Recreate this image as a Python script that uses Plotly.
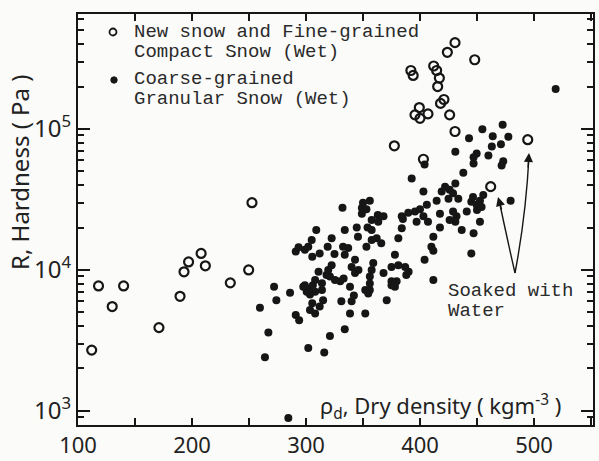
import plotly.graph_objects as go

# ---- data ----
open_x = [112, 118, 130, 140, 171, 189.5, 193, 197, 208, 211.7, 233.6, 249.7, 252.6,
          430.7, 424, 448, 392, 394, 412, 414.6, 417, 415.5, 421, 418, 399.4,
          395.6, 400, 407, 426, 430.7, 377.5, 403, 494.5, 462]
open_y = [2700, 7700, 5500, 7700, 3900, 6500, 9700, 11400, 13100, 10700, 8100, 10000, 30000,
          410000, 350000, 310000, 260000, 240000, 280000, 260000, 230000, 200000, 162000, 152000, 142000,
          126000, 119000, 128000, 126000, 96000, 76000, 61000, 84000, 39000]

filled_x = [519, 284.5, 264, 267, 259.6, 274, 272, 286, 291, 294, 291, 302, 316, 321, 334,
            338.6, 352, 331, 340, 342, 315, 305.5, 308, 312, 303.5, 303.5, 300.6, 308, 314,
            303.5, 297.6, 299, 306, 314, 308, 311, 318, 325.4, 330, 333, 321, 319.5, 322.5,
            312, 305.5, 299, 334, 325, 343, 340, 346, 343, 338.6, 352, 293.5, 302, 305, 309,
            319, 322.5, 332.5, 337, 334, 344.5, 345.6, 332, 349, 350, 356, 353, 349, 363, 368,
            357.6, 363.4, 354, 357.6, 357.6, 362, 366, 353, 359, 357.6, 356, 356, 356, 354.6,
            368, 375, 381, 387, 390, 388, 375, 379.5, 378, 375, 411.7, 370.8, 378, 381, 384,
            384, 385, 389.7, 395.6, 400, 403, 407, 397, 406, 414.6, 403, 392.7, 404, 417.5,
            411.7, 410, 411.7, 404, 417.5, 422, 419, 426, 431, 429, 433.6, 425, 429, 432, 431,
            426, 441, 450, 436.6, 445, 447, 452.6, 445, 446.5, 452.6, 455.5, 449.7, 454, 479.5,
            438, 431, 447, 447, 449.7, 460, 473, 471.6, 443, 454.7, 472.5, 463.8, 477.5, 471, 463]
filled_y = [192000, 890, 2400, 3600, 5400, 6100, 7600, 6900, 4800, 4400, 13500, 2800, 2600, 3400, 3800,
            4900, 4900, 6000, 6000, 6600, 6100, 5800, 4900, 5500, 5200, 6700, 7000, 7000, 7200,
            7400, 7600, 7800, 7800, 8050, 8500, 9700, 9200, 8500, 8300, 8700, 9000, 10000, 10800,
            13100, 12400, 13900, 12800, 13000, 11800, 10500, 10000, 9500, 7600, 7200, 14500, 14600, 16300, 19200,
            14600, 16800, 14600, 14300, 19200, 20000, 17200, 27600, 27500, 30000, 31000, 27000, 25000, 24500, 24000,
            22600, 22000, 20000, 19200, 16300, 16800, 15500, 14600, 11200, 10000, 9000, 8000, 7200, 6800,
            9500, 10500, 10800, 10500, 9700, 9200, 8300, 8300, 7600, 7800, 8500, 6100, 12800, 16800, 19800,
            24000, 23000, 25500, 26000, 27000, 24000, 22000, 22000, 29000, 31000, 36000, 44600, 56000, 20000,
            17200, 14600, 13700, 11800, 25000, 39000, 36000, 37000, 41000, 35000, 32000, 32000, 26000, 24000, 22000,
            22600, 26000, 26600, 19200, 13100, 18200, 22000, 30500, 33000, 31000, 34000, 29000, 28000, 31000,
            49000, 69000, 63000, 57000, 67000, 65000, 59000, 55000, 86000, 99500, 107000, 89000, 88000, 78000, 75000]

x_ticks = [100, 200, 300, 400, 500]
y_ticks = [1e3, 1e4, 1e5]
y_ticktext = ["10<sup>3</sup>", "10<sup>4</sup>", "10<sup>5</sup>"]
y_minor = [m * 10 ** e for e in (2, 3, 4, 5) for m in (2, 3, 4, 5, 6, 7, 8, 9)]

INK = "#161616"
BG = "#fbfbf9"
MONO = "Liberation Mono, Courier New, monospace"
SANS = "Noto Sans, DejaVu Sans, sans-serif"

fig = go.Figure()
fig.add_trace(go.Scatter(x=filled_x, y=filled_y, mode="markers",
                         marker=dict(symbol="circle", size=8, color=INK),
                         showlegend=False, hoverinfo="skip"))
fig.add_trace(go.Scatter(x=open_x, y=open_y, mode="markers",
                         marker=dict(symbol="circle-open", size=9, color=INK, line=dict(width=2.2, color=INK)),
                         showlegend=False, hoverinfo="skip"))

W, H = 599, 461
L, R, T, B = 78, 6, 14, 36
pw, ph = W - L - R, H - T - B


def px(x):
    return (x - L) / pw


def py(y):
    return (H - B - y) / ph


ann = []
# legend text
leg_lines = [("New snow and Fine-grained", 32), ("Compact Snow (Wet)", 52),
             ("Coarse-grained", 79), ("Granular Snow (Wet)", 99)]
for txt, yy in leg_lines:
    ann.append(dict(text=txt, x=px(132), y=py(yy), xref="paper", yref="paper",
                    xanchor="left", yanchor="middle", showarrow=False,
                    font=dict(family=MONO, size=19, color="#2a2a2a")))
for txt, yy in [("Soaked with", 291), ("Water", 311)]:
    ann.append(dict(text=txt, x=px(446), y=py(yy), xref="paper", yref="paper",
                    xanchor="left", yanchor="middle", showarrow=False,
                    font=dict(family=MONO, size=19, color="#2a2a2a")))
# axis titles
ann.append(dict(text="R, Hardness ( Pa )", x=px(19), y=py(172), xref="paper", yref="paper",
                textangle=-90, showarrow=False, xanchor="center", yanchor="middle",
                font=dict(family=SANS, size=24, color="#222")))
ann.append(dict(text="ρ<sub>d</sub>, Dry density ( kgm<sup>-3</sup> )", x=px(440), y=py(406),
                xref="paper", yref="paper", showarrow=False, xanchor="center", yanchor="middle",
                font=dict(family=SANS, size=22, color="#222")))
# arrowheads
ann.append(dict(x=px(498), y=py(197), xref="paper", yref="paper", ax=4, ay=14, text="",
                showarrow=True, arrowhead=2, arrowsize=1.3, arrowwidth=1.4, arrowcolor=INK))
ann.append(dict(x=px(529), y=py(153), xref="paper", yref="paper", ax=-1, ay=16, text="",
                showarrow=True, arrowhead=2, arrowsize=1.3, arrowwidth=1.4, arrowcolor=INK))

shapes = []
# legend markers
shapes.append(dict(type="circle", xref="paper", yref="paper", xsizemode="pixel", ysizemode="pixel",
                   xanchor=px(113), yanchor=py(32), x0=-3.5, x1=3.5, y0=-3.5, y1=3.5,
                   line=dict(color=INK, width=1.8)))
shapes.append(dict(type="circle", xref="paper", yref="paper", xsizemode="pixel", ysizemode="pixel",
                   xanchor=px(114), yanchor=py(80), x0=-3.2, x1=3.2, y0=-3.2, y1=3.2,
                   fillcolor=INK, line=dict(color=INK, width=1)))
# curved arrow lines
shapes.append(dict(type="path", xref="paper", yref="paper",
                   path=f"M {px(515)},{py(273)} Q {px(507)},{py(238)} {px(499)},{py(200)}",
                   line=dict(color=INK, width=1.4)))
shapes.append(dict(type="path", xref="paper", yref="paper",
                   path=f"M {px(515)},{py(273)} Q {px(526)},{py(215)} {px(529)},{py(156)}",
                   line=dict(color=INK, width=1.4)))

fig.update_layout(
    width=W, height=H, margin=dict(l=L, r=R, t=T, b=B, autoexpand=False),
    paper_bgcolor=BG, plot_bgcolor=BG,
    annotations=ann, shapes=shapes, showlegend=False,
)
fig.update_xaxes(range=[100, 100 + pw / 1.14], tickvals=x_ticks, ticks="inside", ticklen=7,
                 tickwidth=1.5, tickcolor=INK, showline=True, linecolor=INK, linewidth=2,
                 mirror="ticks", showgrid=False, zeroline=False, automargin=False,
                 ticklabelstandoff=0,
                 minor=dict(dtick=50, tick0=100, ticks="inside", ticklen=7, tickwidth=1.5, tickcolor=INK),
                 tickfont=dict(family=SANS, size=22, color="#222"))
fig.update_yaxes(type="log", range=[2.90, 5.816], tickvals=y_ticks, ticktext=y_ticktext,
                 ticks="inside", ticklen=12, tickwidth=1.5, tickcolor=INK,
                 showline=True, linecolor=INK, linewidth=2, mirror="ticks",
                 showgrid=False, zeroline=False, automargin=False,
                 minor=dict(tickvals=y_minor, ticks="inside", ticklen=6, tickwidth=1.5, tickcolor=INK),
                 tickfont=dict(family=SANS, size=24, color="#222"))

fig.write_html("out.html", config={"displayModeBar": False},
               post_script="document.body.style.margin='0';document.body.style.background='#fbfbf9';")
